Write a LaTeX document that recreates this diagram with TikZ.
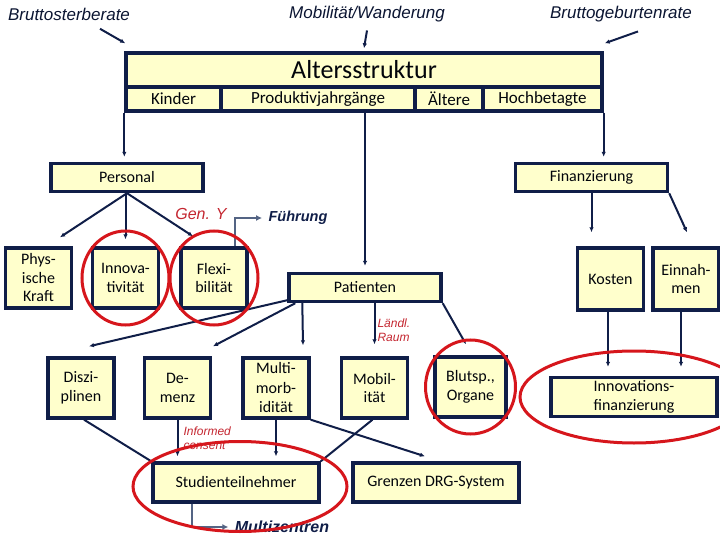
\documentclass[tikz,border=0pt]{standalone}
\usepackage{fontspec}
\setmainfont{Carlito}
\newfontfamily\arialfont{Liberation Sans}
\usetikzlibrary{arrows.meta}
\definecolor{navy}{RGB}{16,30,72}
\definecolor{paleyellow}{RGB}{255,255,204}
\definecolor{ringred}{RGB}{214,22,28}
\definecolor{slateblue}{RGB}{84,100,132}
\definecolor{notered}{RGB}{196,38,48}
\begin{document}
\begin{tikzpicture}[x=1pt,y=-1pt,
  box/.style={draw=navy, line width=3.4pt, fill=paleyellow, inner sep=0pt, align=center,
    text=black!85!navy, font=\fontsize{16}{18.5}\selectfont},
  sq/.style={box, minimum width=66pt, minimum height=60pt},
  bar/.style={box, minimum width=152pt, minimum height=28pt},
  wide/.style={box, minimum width=166pt, minimum height=39pt},
  cell/.style={box, minimum height=24pt, font=\fontsize{17}{19}\selectfont},
  arr/.style={draw=navy, line width=2pt, -{Latex[length=5pt,width=4.5pt]}},
  link/.style={draw=navy, line width=2pt},
  ring/.style={draw=ringred, line width=3pt},
  toplabel/.style={font=\arialfont\itshape\fontsize{17}{20}\selectfont, text=navy!70!black},
  note/.style={font=\arialfont\itshape\fontsize{12}{14}\selectfont, text=notered, align=left},
  hint/.style={font=\arialfont\bfseries\itshape\fontsize{15}{18}\selectfont, text=navy},
  side/.style={draw=slateblue, line width=2.8pt, -{Latex[length=6pt,width=6pt]}}
]
\useasboundingbox (0,0) rectangle (720,540);
\node[toplabel] (bsr) at (69,14) {Bruttosterberate};
\node[toplabel] (mob) at (367,14) {Mobilität/Wanderung};
\node[toplabel] (bgr) at (621,14) {Bruttogeburtenrate};
\node[box, minimum width=476pt, minimum height=34pt, font=\fontsize{26}{28}\selectfont] (alter) at (364,70) {Altersstruktur};
\node[cell, minimum width=95pt] (kinder) at (173.5,99) {Kinder};
\node[cell, minimum width=194pt] (prod) at (318,99) {Produktivjahrgänge};
\node[cell, minimum width=68pt] (aelt) at (449,99) {Ältere};
\node[cell, minimum width=119pt] (hoch) at (542.5,99) {Hochbetagte};
\draw[arr] ([xshift=31pt,yshift=-5pt]bsr.south) -- ([xshift=1pt,yshift=8pt]alter.north west);
\draw[arr] ([yshift=-5pt]mob.south) -- ([yshift=3pt]alter.north);
\draw[arr] ([xshift=17pt,yshift=-6pt]bgr.south) -- ([xshift=1pt,yshift=8pt]alter.north east);
\node[bar] (pers) at (127,177.5) {Personal};
\node[bar] (fin) at (591.5,177.5) {Finanzierung};
\node[bar] (pat) at (365,287.5) {Patienten};
\draw[arr, shorten >=5pt] (kinder.south west) -- (kinder.south west |- pers.north);
\draw[arr, shorten >=6pt] (pat.north |- prod.south) -- (pat.north);
\draw[arr, shorten >=5pt] (hoch.south east) -- (hoch.south east |- fin.north);
\node[sq] (phys) at (38.5,278) {Phys-\\ische\\Kraft};
\node[sq] (innov) at (125.5,278) {Innova-\\tivität};
\node[sq] (flex) at (214,278) {Flexi-\\bilität};
\node[sq, minimum height=62pt] (kost) at (610.5,279) {Kosten};
\node[sq, minimum height=62pt] (einn) at (686,279) {Einnah-\\men};
\draw[arr] (pers.south) -- ([xshift=21.5pt,yshift=9pt]phys.north);
\draw[arr] (innov.north |- pers.south) -- ([yshift=7pt]innov.north);
\draw[arr] (pers.south) -- ([xshift=-21pt,yshift=10pt]flex.north);
\node[hint, font=\arialfont\bfseries\itshape\fontsize{14.5}{17}\selectfont] (fuehr) at (298,218) {Führung};
\draw[side, shorten >=3pt] ([xshift=21pt]flex.north) |- (fuehr.west);
\node[note, font=\arialfont\itshape\fontsize{16}{18}\selectfont] (geny) at (201,214) {Gen. Y};
\draw[arr, shorten >=14pt] (fin.south) -- (fin.south |- kost.north);
\draw[arr] (fin.south east) -- ([xshift=1pt,yshift=14pt]einn.north);
\node[sq] (disz) at (81,388) {Diszi-\\plinen};
\node[sq] (dem) at (177.5,388) {De-\\menz};
\node[sq, font=\fontsize{16}{19.5}\selectfont] (multi) at (276,388) {Multi-\\morb-\\idität};
\node[sq] (mobil) at (374.5,388) {Mobil-\\ität};
\node[sq, minimum width=71pt] (blut) at (470.5,387) {Blutsp.,\\Organe};
\node[wide] (innofin) at (634,397) {Innovations-\\finanzierung};
\draw[arr] ([yshift=3pt]pat.south west) -- ([xshift=8pt,yshift=10pt]disz.north);
\draw[arr] ([xshift=8pt]pat.south west) -- ([xshift=35.5pt,yshift=10pt]dem.north);
\draw[arr] ([xshift=15pt]pat.south west) -- ([xshift=27pt,yshift=11pt]multi.north);
\draw[arr] ([xshift=9.5pt]pat.south) -- ([yshift=12pt]mobil.north);
\draw[arr] (pat.south east) -- ([xshift=-4.5pt,yshift=11pt]blut.north);
\node[note, anchor=west] (laendl) at (374,330) {Ländl.\\Raum};
\draw[arr, shorten >=9pt] ([xshift=-2.5pt]kost.south) -- ([xshift=-2.5pt]kost.south |- innofin.north);
\draw[arr, shorten >=9pt] ([xshift=-5pt]einn.south) -- ([xshift=-5pt]einn.south |- innofin.north);
\node[wide] (stud) at (236,482.5) {Studienteilnehmer};
\node[wide] (grenz) at (436,482.5) {Grenzen DRG-System};
\draw[link] ([xshift=3pt]disz.south) -- (stud.north west);
\draw[arr, shorten >=5pt] (dem.south) -- (dem.south |- stud.north);
\draw[arr, shorten >=5pt] (multi.south) -- (multi.south |- stud.north);
\draw[link] ([xshift=-2pt]mobil.south) -- (stud.north east);
\draw[arr] (multi.south east) -- ([xshift=-11pt,yshift=5pt]grenz.north);
\node[note, anchor=west] (consent) at (180,438) {Informed\\consent};
\node[hint, font=\arialfont\bfseries\itshape\fontsize{16}{18}\selectfont] (multiz) at (282,527) {Multizentren};
\draw[side, shorten >=3pt] ([xshift=-44pt]stud.south) |- (multiz.west);
\draw[ring] (innov.center) ellipse [x radius=43.5, y radius=47];
\draw[ring] (flex.center) ellipse [x radius=44, y radius=47];
\draw[ring] (blut.center) ellipse [x radius=45, y radius=47];
\draw[ring] (innofin.center) ellipse [x radius=114, y radius=46];
\draw[ring] ([xshift=4pt,yshift=-4pt]stud.center) ellipse [x radius=107, y radius=45];
\end{tikzpicture}
\end{document}
